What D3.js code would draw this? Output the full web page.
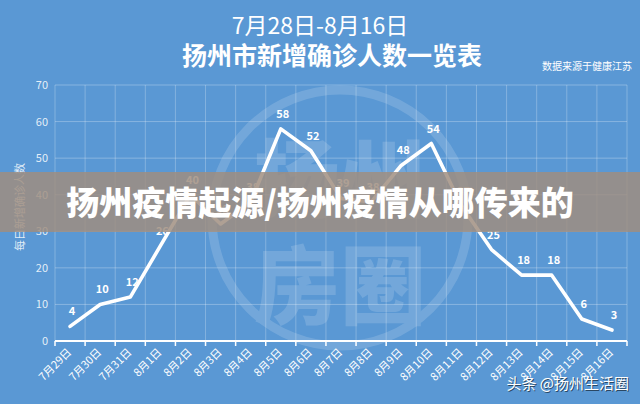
<!DOCTYPE html>
<html><head><meta charset="utf-8">
<script src="https://cdn.jsdelivr.net/npm/d3@7/dist/d3.min.js"></script>
<style>
html,body{margin:0;padding:0;background:#5a98d4;}
svg{display:block;}
text{font-family:"Noto Sans CJK SC","Noto Sans",sans-serif;}
</style></head>
<body>
<svg id="c" width="640" height="404"></svg>
<script>
const dates = ["7月29日","7月30日","7月31日","8月1日","8月2日","8月3日","8月4日","8月5日","8月6日","8月7日","8月8日","8月9日","8月10日","8月11日","8月12日","8月13日","8月14日","8月15日","8月16日"];
const cases = [4,10,12,26,40,32,38,58,52,39,38,48,54,37,25,18,18,6,3];
const yTicks = [0,10,20,30,40,50,60,70];
const titleLines = ["7月28日-8月16日","扬州市新增确诊人数一览表"];
const sourceText = "数据来源于健康江苏";
const yTitle = "每日新增确诊人数";
const bannerText = "扬州疫情起源/扬州疫情从哪传来的";
const markText = ["扬州","房圈"];

const W=640,H=404;
const m={l:55,r:13,t:85,b:63};
const svg=d3.select("#c");
svg.append("rect").attr("width",W).attr("height",H).attr("fill","#5a98d4");

const x=d3.scaleBand().domain(dates).range([m.l,W-m.r]).padding(0);
const y=d3.scaleLinear().domain([0,70]).range([H-m.b,m.t]);

// grid
const g=svg.append("g");
g.selectAll(".hg").data(yTicks).join("line")
 .attr("x1",m.l).attr("x2",W-m.r).attr("y1",d=>y(d)).attr("y2",d=>y(d))
 .attr("stroke","rgba(255,255,255,0.28)").attr("stroke-width",1);
const bounds=dates.map(d=>x(d)).concat([x(dates[dates.length-1])+x.bandwidth()]);
g.selectAll(".vg").data(bounds).join("line")
 .attr("x1",d=>d).attr("x2",d=>d).attr("y1",y(70)).attr("y2",y(0))
 .attr("stroke","rgba(255,255,255,0.25)").attr("stroke-width",1);

// watermark logo
const wm=svg.append("g").attr("opacity",0.15);
wm.append("circle").attr("cx",340).attr("cy",218).attr("r",128)
 .attr("fill","none").attr("stroke","#fff").attr("stroke-width",9);
wm.append("text").attr("x",340).attr("y",212).attr("text-anchor","middle")
 .attr("font-size",86).attr("font-weight",900).attr("fill","#fff").text(markText[0]);
wm.append("text").attr("x",340).attr("y",318).attr("text-anchor","middle")
 .attr("font-size",86).attr("font-weight",900).attr("fill","#fff").text(markText[1]);

// titles
svg.append("text").attr("x",320).attr("y",34).attr("text-anchor","middle")
 .attr("font-size",23).attr("font-weight",400).attr("fill","#fff").text(titleLines[0]);
svg.append("text").attr("x",332).attr("y",65).attr("text-anchor","middle")
 .attr("font-size",25).attr("font-weight",700).attr("fill","#fff").text(titleLines[1]);
svg.append("text").attr("x",632).attr("y",70).attr("text-anchor","end")
 .attr("font-size",10).attr("fill","#fff").text(sourceText);

// y axis labels
svg.append("g").selectAll("text").data(yTicks).join("text")
 .attr("x",48).attr("y",d=>y(d)+4).attr("text-anchor","end")
 .attr("font-size",11).attr("font-family","Lato, 'Noto Sans', sans-serif")
 .attr("fill","rgba(255,255,255,0.85)").text(d=>d);
svg.append("text").attr("transform","translate(24,207) rotate(-90)")
 .attr("text-anchor","middle").attr("font-size",11).attr("fill","rgba(255,255,255,0.85)").text(yTitle);

// x axis
const xa=svg.append("g").attr("transform",`translate(0,${y(0)})`);
xa.append("line").attr("x1",m.l).attr("x2",W-m.r).attr("stroke","#fff").attr("stroke-width",2);
xa.selectAll(".tk").data(bounds).join("line").attr("x1",d=>d).attr("x2",d=>d)
 .attr("y1",0).attr("y2",5).attr("stroke","#fff").attr("stroke-width",1.5);
xa.selectAll(".xl").data(dates).join("text")
 .attr("transform",d=>`translate(${x(d)+x.bandwidth()/2+2},12) rotate(-45)`)
 .attr("text-anchor","end").attr("font-size",11).attr("fill","#fff").text(d=>d);

// line
const pts=dates.map((d,i)=>[x(d)+x.bandwidth()/2,y(cases[i])]);
svg.append("path").attr("d",d3.line()(pts)).attr("fill","none")
 .attr("stroke","#fff").attr("stroke-width",3.6).attr("stroke-linejoin","round").attr("stroke-linecap","round");
svg.append("g").selectAll("text").data(cases).join("text")
 .attr("x",(d,i)=>pts[i][0]+2).attr("y",(d,i)=>pts[i][1]-11)
 .attr("text-anchor","middle").attr("font-size",11).attr("font-weight",700)
 .attr("font-family","Lato, 'Noto Sans', sans-serif").attr("fill","#fff").text(d=>d);

// banner overlay
svg.append("rect").attr("x",0).attr("y",172).attr("width",W).attr("height",60)
 .attr("fill","rgb(160,142,128)").attr("opacity",0.84);
svg.append("text").attr("x",320).attr("y",215).attr("text-anchor","middle")
 .attr("font-size",33).attr("font-weight",900).attr("fill","#fff").text(bannerText);

// corner watermark
const cw=svg.append("g");
cw.append("text").attr("x",629).attr("y",389).attr("text-anchor","end")
 .attr("font-size",15).attr("fill","rgba(0,0,0,0.55)").attr("dx",1).attr("dy",1).text("头条 @扬州生活圈");
cw.append("text").attr("x",629).attr("y",389).attr("text-anchor","end")
 .attr("font-size",15).attr("fill","#fff").text("头条 @扬州生活圈");
</script>
</body></html>
